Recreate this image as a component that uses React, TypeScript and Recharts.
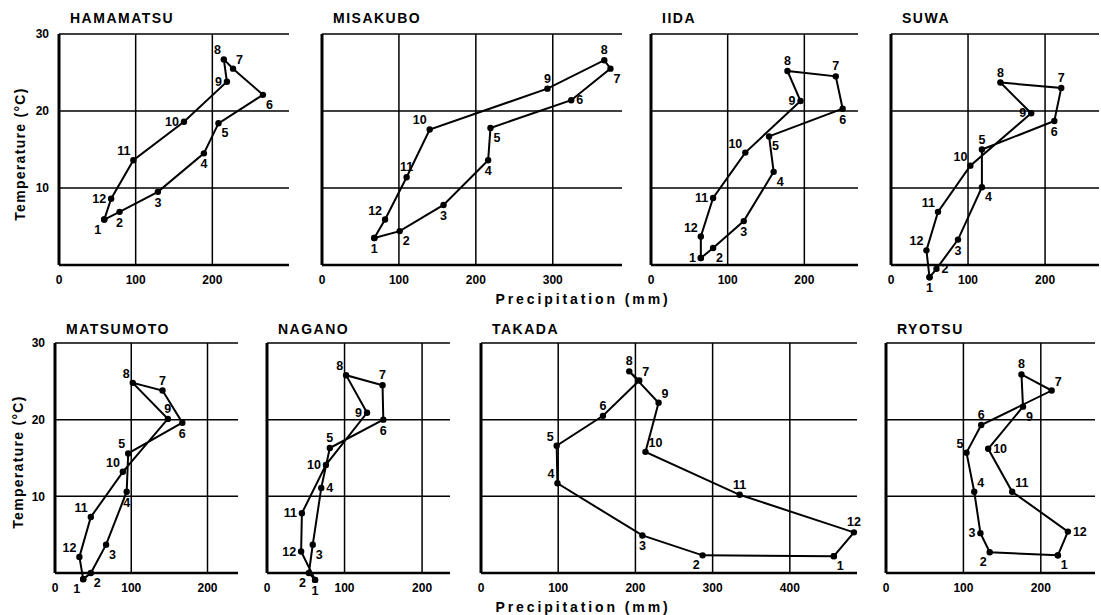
import React from "react";
import { LineChart, Line, XAxis, YAxis, LabelList, ReferenceLine } from "recharts";

// monthly precipitation (mm) and mean temperature (°C), January..December
const HAMAMATSU_PREC = [59, 79, 129, 189, 208, 266, 227, 215, 219, 163, 97, 68];
const HAMAMATSU_TEMP = [5.9, 6.9, 9.5, 14.5, 18.4, 22.1, 25.5, 26.7, 23.8, 18.6, 13.6, 8.6];
const MISAKUBO_PREC = [68, 101, 158, 216, 219, 324, 375, 367, 293, 140, 110, 82];
const MISAKUBO_TEMP = [3.5, 4.4, 7.8, 13.6, 17.8, 21.4, 25.5, 26.6, 22.9, 17.6, 11.4, 5.9];
const IIDA_PREC = [65, 81, 121, 160, 154, 250, 241, 178, 195, 123, 81, 65];
const IIDA_TEMP = [0.9, 2.2, 5.7, 12.1, 16.7, 20.3, 24.5, 25.2, 21.3, 14.6, 8.7, 3.7];
const SUWA_PREC = [50, 59, 87, 118, 118, 212, 221, 142, 182, 103, 61, 46];
const SUWA_TEMP = [-1.6, -0.5, 3.3, 10.1, 15.0, 18.7, 23.0, 23.7, 19.7, 12.9, 6.9, 1.9];
const MATSUMOTO_PREC = [37, 47, 67, 94, 96, 167, 141, 102, 148, 89, 47, 32];
const MATSUMOTO_TEMP = [-0.8, 0, 3.7, 10.6, 15.6, 19.6, 23.8, 24.8, 20.1, 13.2, 7.3, 2.1];
const NAGANO_PREC = [62, 54, 59, 70, 81, 150, 149, 102, 129, 76, 45, 44];
const NAGANO_TEMP = [-0.9, 0, 3.7, 11.1, 16.3, 20.0, 24.5, 25.8, 20.9, 14.1, 7.8, 2.8];
const TAKADA_PREC = [457, 287, 209, 99, 98, 158, 205, 192, 230, 213, 335, 483];
const TAKADA_TEMP = [2.2, 2.3, 4.9, 11.7, 16.6, 20.5, 25.1, 26.3, 22.2, 15.8, 10.2, 5.3];
const RYOTSU_PREC = [222, 134, 122, 114, 104, 123, 214, 175, 177, 132, 163, 235];
const RYOTSU_TEMP = [2.3, 2.7, 5.2, 10.6, 15.7, 19.3, 23.8, 25.9, 21.7, 16.2, 10.6, 5.4];

// where each month number sits relative to its point
const HAMAMATSU_LBL = ["sw", "s", "s", "s", "se", "se", "ne", "nw", "w", "w", "nw", "w"];
const MISAKUBO_LBL = ["s", "se", "s", "s", "se", "e", "se", "n", "n", "nw", "n", "nw"];
const IIDA_LBL = ["w", "se", "s", "se", "se", "s", "n", "n", "w", "nw", "w", "nw"];
const SUWA_LBL = ["s", "e", "s", "se", "n", "s", "n", "n", "w", "nw", "nw", "nw"];
const MATSUMOTO_LBL = ["sw", "se", "se", "s", "nw", "s", "n", "nw", "n", "nw", "nw", "nw"];
const NAGANO_LBL = ["s", "sw", "se", "e", "n", "s", "n", "nw", "w", "w", "w", "w"];
const TAKADA_LBL = ["se", "sw", "s", "nw", "nw", "n", "ne", "n", "ne", "ne", "n", "n"];
const RYOTSU_LBL = ["se", "sw", "w", "ne", "nw", "n", "ne", "n", "se", "e", "ne", "e"];

const TEMP_TICKS = [0, 10, 20, 30];

const BOLD = "'Liberation Sans', Arial, Helvetica, sans-serif";

const OFF: Record<string, [number, number, string]> = {
  n: [0, -6, "middle"],
  s: [0, 15, "middle"],
  e: [5, 4, "start"],
  w: [-5, 4, "end"],
  ne: [3, -5, "start"],
  nw: [-3, -5, "end"],
  se: [3, 14, "start"],
  sw: [-3, 14, "end"],
};

const YW = 30;
const MT = 12;
const MR = 10;
const XH = 30;

const panels = [
  { name: "HAMAMATSU", prec: HAMAMATSU_PREC, temp: HAMAMATSU_TEMP, lbl: HAMAMATSU_LBL, x: 59, y: 34, w: 230, h: 231, xMax: 300, xTicks: [0, 100, 200], yTicks: true },
  { name: "MISAKUBO", prec: MISAKUBO_PREC, temp: MISAKUBO_TEMP, lbl: MISAKUBO_LBL, x: 322, y: 34, w: 300, h: 231, xMax: 390, xTicks: [0, 100, 200, 300], yTicks: false },
  { name: "IIDA", prec: IIDA_PREC, temp: IIDA_TEMP, lbl: IIDA_LBL, x: 651, y: 34, w: 207, h: 231, xMax: 270, xTicks: [0, 100, 200], yTicks: false },
  { name: "SUWA", prec: SUWA_PREC, temp: SUWA_TEMP, lbl: SUWA_LBL, x: 891, y: 34, w: 208, h: 231, xMax: 270, xTicks: [0, 100, 200], yTicks: false },
  { name: "MATSUMOTO", prec: MATSUMOTO_PREC, temp: MATSUMOTO_TEMP, lbl: MATSUMOTO_LBL, x: 55, y: 343, w: 183, h: 230, xMax: 240, xTicks: [0, 100, 200], yTicks: true },
  { name: "NAGANO", prec: NAGANO_PREC, temp: NAGANO_TEMP, lbl: NAGANO_LBL, x: 267, y: 343, w: 183, h: 230, xMax: 236, xTicks: [0, 100, 200], yTicks: false },
  { name: "TAKADA", prec: TAKADA_PREC, temp: TAKADA_TEMP, lbl: TAKADA_LBL, x: 481, y: 343, w: 376, h: 230, xMax: 487, xTicks: [0, 100, 200, 300, 400], yTicks: false },
  { name: "RYOTSU", prec: RYOTSU_PREC, temp: RYOTSU_TEMP, lbl: RYOTSU_LBL, x: 886, y: 343, w: 209, h: 230, xMax: 270, xTicks: [0, 100, 200], yTicks: false },
];

function Panel({ p }: { p: (typeof panels)[number] }) {
  const rows = p.prec.map((v, i) => ({ p: v, t: p.temp[i], m: i + 1 }));
  rows.push({ ...rows[0] }); // close the loop back to January

  const monthLabel = (props: any) => {
    const { x, y, index, value } = props;
    if (index >= 12) return null;
    const [dx, dy, anchor] = OFF[p.lbl[index]] || OFF.e;
    return (
      <text x={x + dx} y={y + dy} textAnchor={anchor as any} fontSize={12.5} fontWeight="bold" fontFamily={BOLD} fill="#000">
        {value}
      </text>
    );
  };

  return (
    <div style={{ position: "absolute", left: p.x - YW, top: p.y - MT }}>
      <LineChart
        width={YW + p.w + MR}
        height={MT + p.h + XH}
        data={rows}
        margin={{ top: MT, right: MR, left: 0, bottom: 0 }}
      >
        {TEMP_TICKS.slice(1).map((v) => (
          <ReferenceLine key={"h" + v} y={v} stroke="#000" strokeWidth={1.5} />
        ))}
        {p.xTicks.slice(1).map((v) => (
          <ReferenceLine key={"v" + v} x={v} stroke="#000" strokeWidth={1.5} />
        ))}
        <XAxis
          dataKey="p"
          type="number"
          domain={[0, p.xMax]}
          ticks={p.xTicks}
          allowDataOverflow
          height={XH}
          tickLine={false}
          tickSize={8}
          axisLine={{ stroke: "#000", strokeWidth: 2.5 }}
          tick={{ fill: "#000", fontSize: 12, fontWeight: "bold", fontFamily: BOLD }}
        />
        <YAxis
          dataKey="t"
          type="number"
          domain={[0, 30]}
          ticks={TEMP_TICKS}
          allowDataOverflow
          width={YW}
          tickLine={false}
          tickSize={8}
          axisLine={{ stroke: "#000", strokeWidth: 3 }}
          tick={p.yTicks ? { fill: "#000", fontSize: 12, fontWeight: "bold", fontFamily: BOLD } : false}
          tickFormatter={(v: number) => (v === 0 ? "" : String(v))}
        />
        <Line
          dataKey="t"
          type="linear"
          stroke="#000"
          strokeWidth={2}
          dot={{ r: 3.2, fill: "#000", stroke: "#000", strokeWidth: 0 }}
          isAnimationActive={false}
        >
          <LabelList dataKey="m" content={monthLabel} />
        </Line>
      </LineChart>
    </div>
  );
}

export default function App() {
  return (
    <div className="climo" style={{ position: "absolute", left: 0, top: 0, width: 1101, height: 615, background: "#fff", overflow: "hidden" }}>
      <style>{`.climo .recharts-line, .climo .recharts-line *, .climo .recharts-line-dots, .climo .recharts-line-dots *, .climo .recharts-line-dot {clip-path:none !important}`}</style>
      {panels.map((p) => (
        <Panel key={p.name} p={p} />
      ))}
      <svg width={1101} height={615} style={{ position: "absolute", left: 0, top: 0, pointerEvents: "none" }}>
        {panels.map((p) => (
          <text
            key={p.name}
            x={p.x + 11}
            y={p.y - (p.y < 100 ? 11 : 9)}
            fontSize={14}
            fontWeight="bold"
            letterSpacing={1.5}
            fontFamily={BOLD}
            fill="#000"
          >
            {p.name}
          </text>
        ))}
        <text x={20} y={154} transform="rotate(-90 20 154)" textAnchor="middle" dominantBaseline="central" fontSize={14} fontWeight="bold" letterSpacing={1.3} fontFamily={BOLD} fill="#000">
          Temperature (°C)
        </text>
        <text x={18} y={462} transform="rotate(-90 18 462)" textAnchor="middle" dominantBaseline="central" fontSize={14} fontWeight="bold" letterSpacing={1.3} fontFamily={BOLD} fill="#000">
          Temperature (°C)
        </text>
        <text x={583} y={304} textAnchor="middle" fontSize={14} fontWeight="bold" letterSpacing={2.9} fontFamily={BOLD} fill="#000">
          Precipitation  (mm)
        </text>
        <text x={583} y={612} textAnchor="middle" fontSize={14} fontWeight="bold" letterSpacing={2.9} fontFamily={BOLD} fill="#000">
          Precipitation  (mm)
        </text>
      </svg>
    </div>
  );
}
